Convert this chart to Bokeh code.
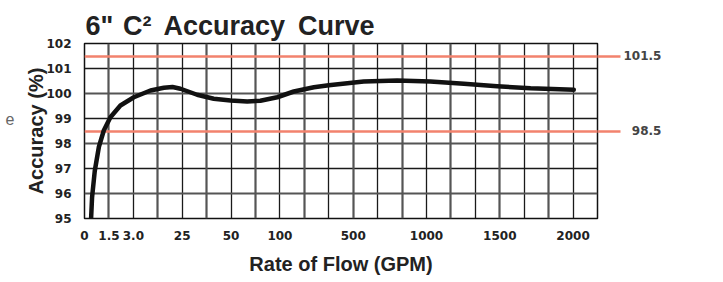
from bokeh.plotting import figure
from bokeh.models import FixedTicker, Grid, Range1d, LinearAxis
from bokeh.embed import file_html
from bokeh.resources import INLINE

# ---- data ----
tick_pos = [0, 1, 2, 4, 6, 8, 11, 14, 17, 20]
tick_labels = ["0", "1.5", "3.0", "25", "50", "100", "500", "1000", "1500", "2000"]
y_ticks = [95, 96, 97, 98, 99, 100, 101, 102]
limits = [101.5, 98.5]
limit_labels = ["101.5", "\u200798.5"]

curve_x = [0.27, 0.31, 0.42, 0.59, 0.79, 1.06, 1.47, 2.02, 2.70, 3.25, 3.6,
           3.93, 4.61, 5.29, 5.98, 6.66, 7.2, 7.89, 8.57, 9.39, 10.0,
           11.43, 12.8, 14.16, 15.53, 16.89, 18.26, 20.03]
curve_y = [95.0, 95.85, 96.9, 97.87, 98.52, 99.05, 99.52, 99.85, 100.12, 100.23, 100.26,
           100.19, 99.95, 99.79, 99.72, 99.68, 99.71, 99.85, 100.08, 100.25, 100.33,
           100.48, 100.52, 100.48, 100.39, 100.29, 100.21, 100.15]

TF = "Liberation Sans"
TICKF = "DejaVu Sans"

p = figure(width=723, height=282, x_range=Range1d(0, 21), y_range=Range1d(95, 102),
           output_backend="svg", toolbar_location=None,
           min_border_left=84, min_border_right=126, min_border_top=43, min_border_bottom=64)
p.background_fill_color = "white"
p.border_fill_color = "white"
p.outline_line_color = "#111111"
p.outline_line_width = 1.5

# title
p.title.text = '6"\u200a C\u00b2\u2009 Accuracy\u2009 Curve'
p.title.text_font = TF
p.title.text_font_style = "bold"
p.title.text_font_size = "27px"
p.title.text_color = "#222222"
p.title.align = "left"
p.title.offset = 1
p.title.standoff = 6

# grids (alternating look of the original)
p.xgrid.ticker = FixedTicker(ticks=list(range(0, 22, 2)))
p.xgrid.grid_line_color = "#1a1a1a"
p.xgrid.grid_line_width = 1.3
p.add_layout(Grid(dimension=0, ticker=FixedTicker(ticks=list(range(1, 22, 2))),
                  grid_line_color="#555555", grid_line_width=2.2))
p.ygrid.ticker = FixedTicker(ticks=[95, 97, 99, 101])
p.ygrid.grid_line_color = "#1a1a1a"
p.ygrid.grid_line_width = 1.3
p.add_layout(Grid(dimension=1, ticker=FixedTicker(ticks=[96, 98, 100, 102]),
                  grid_line_color="#555555", grid_line_width=2.2))

# axes
for ax in (p.xaxis[0], p.yaxis[0]):
    ax.axis_line_color = None
    ax.major_tick_line_color = None
    ax.minor_tick_line_color = None
    ax.major_label_text_font = TICKF
    ax.major_label_text_font_style = "bold"
    ax.major_label_text_font_size = "12px"
    ax.major_label_text_color = "#222222"
    ax.axis_label_text_font = TF
    ax.axis_label_text_font_style = "bold"
    ax.axis_label_text_font_size = "20px"
    ax.axis_label_text_color = "#222222"
p.xaxis.ticker = FixedTicker(ticks=tick_pos)
p.xaxis.major_label_overrides = {t: l for t, l in zip(tick_pos, tick_labels)}
p.xaxis.major_label_standoff = 6
p.xaxis.axis_label = "Rate of Flow (GPM)"
p.xaxis.axis_label_standoff = 10
p.yaxis.ticker = FixedTicker(ticks=y_ticks)
p.yaxis.major_label_standoff = 7
p.yaxis.axis_label = "Accuracy (%)"
p.yaxis.axis_label_standoff = -4

# stray letter at the far left edge of the original image
stray = LinearAxis(ticker=FixedTicker(ticks=[99]), major_label_overrides={99: "e"},
                   axis_line_color=None, major_tick_line_color=None, minor_tick_line_color=None,
                   major_label_standoff=2, major_label_text_font=TF,
                   major_label_text_font_size="16px", major_label_text_color="#666666")
p.add_layout(stray, "left")

# limit lines: ticks of a right-hand axis extend the red lines beyond the frame
p.add_layout(Grid(dimension=1, ticker=FixedTicker(ticks=limits),
                  grid_line_color="#f2826e", grid_line_width=2.5))
lim_axis = LinearAxis(ticker=FixedTicker(ticks=limits),
                      major_label_overrides={t: l for t, l in zip(limits, limit_labels)},
                      axis_line_color=None, minor_tick_line_color=None,
                      major_tick_line_color="#f2826e", major_tick_line_width=2.5,
                      major_tick_in=0, major_tick_out=23, major_label_standoff=3,
                      major_label_text_font=TICKF, major_label_text_font_style="bold",
                      major_label_text_font_size="12px", major_label_text_color="#444444")
p.add_layout(lim_axis, "right")

# curve
p.line(curve_x, curve_y, line_color="#111111", line_width=4.5, line_cap="round", line_join="round")

open("out.html", "w").write(file_html(p, INLINE))
